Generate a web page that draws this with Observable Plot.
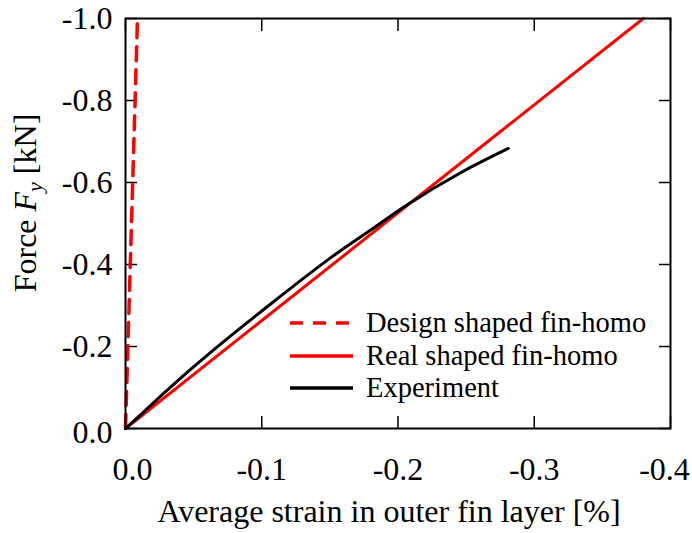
<!DOCTYPE html>
<html>
<head>
<meta charset="utf-8">
<script src="https://cdn.jsdelivr.net/npm/d3@7"></script>
<script src="https://cdn.jsdelivr.net/npm/@observablehq/plot@0.6"></script>
<style>
  html, body { margin: 0; padding: 0; background: #fff; }
  #wrap { position: relative; width: 692px; height: 533px; font-family: "Liberation Serif", serif; color: #000; }
  #chart svg, #chart svg text { font-family: "Liberation Serif", serif !important; font-variant: normal !important; }
  #ylabel { position: absolute; left: 27px; top: 203px; transform: translate(-50%, -50%) rotate(-90deg); white-space: nowrap; font-size: 32px; line-height: 1; }
  #legend { position: absolute; left: 290px; top: 307px; font-size: 28.5px; line-height: 32.5px; }
  #legend .row { display: flex; align-items: center; height: 32.5px; }
  #legend svg { margin-right: 13px; }
</style>
</head>
<body>
<div id="wrap">
  <div id="chart"></div>
  <div id="ylabel">Force <i>F</i><sub style="font-size:22px; vertical-align:-6px"><i>y</i></sub> [kN]</div>
  <div id="legend"></div>
</div>
<script>
// Data (strain in %, force in kN)
const designStrain = [0, -0.0088];
const designForce = [0, -1.0];
const realStrain = [0, -0.38];
const realForce = [0, -1.0];
const expStrain = [0, -0.01, -0.03, -0.064, -0.107, -0.15, -0.18, -0.206, -0.245, -0.281];
const expForce = [0, -0.03, -0.092, -0.19, -0.305, -0.415, -0.484, -0.544, -0.622, -0.683];
const xTicks = [0, -0.1, -0.2, -0.3, -0.4];
const yTicks = [0, -0.2, -0.4, -0.6, -0.8, -1.0];
const seriesNames = ["Design shaped fin-homo", "Real shaped fin-homo", "Experiment"];
const xLabel = "Average strain in outer fin layer [%]";

const toRows = (xs, ys) => xs.map((x, i) => ({x, y: ys[i]}));
const design = toRows(designStrain, designForce);
const real = toRows(realStrain, realForce);
const exp = toRows(expStrain, expForce);
const fmt = d => d.toFixed(1);

const xLab = {anchor: "bottom", tickFormat: fmt, tickSize: 0, tickPadding: 29, label: null, fontSize: 32};
const yLab = {anchor: "left", tickFormat: fmt, tickSize: 0, tickPadding: 13, label: null, fontSize: 32};
const tickOpts = {tickSize: -12, text: null, label: null, strokeWidth: 1.5};

const chart = Plot.plot({
  width: 692,
  height: 533,
  marginLeft: 125,
  marginRight: 22,
  marginTop: 18,
  marginBottom: 105,
  style: {fontFamily: "'Liberation Serif', serif", fontSize: "32px", background: "#fff", color: "#000", overflow: "visible"},
  x: {domain: [0, -0.4]},
  y: {domain: [0, -1.0]},
  marks: [
    // inward ticks on all four sides
    Plot.axisX({anchor: "bottom", ticks: xTicks, ...tickOpts}),
    Plot.axisX({anchor: "top", ticks: xTicks, ...tickOpts}),
    Plot.axisY({anchor: "left", ticks: yTicks, ...tickOpts}),
    Plot.axisY({anchor: "right", ticks: yTicks, ...tickOpts}),
    // tick labels
    Plot.axisX({...xLab, ticks: xTicks.slice(1, -1)}),
    Plot.axisX({...xLab, ticks: xTicks.slice(0, 1), dx: 7}),
    Plot.axisX({...xLab, ticks: xTicks.slice(-1), dx: -6}),
    Plot.axisY({...yLab, ticks: yTicks.slice(1)}),
    Plot.axisY({...yLab, ticks: yTicks.slice(0, 1), dy: 4}),
    // series
    Plot.line(design, {x: "x", y: "y", stroke: "#ff0000", strokeWidth: 3.5, strokeDasharray: "14,9"}),
    Plot.line(real, {x: "x", y: "y", stroke: "#ff0000", strokeWidth: 3}),
    Plot.line(exp, {x: "x", y: "y", stroke: "#000", strokeWidth: 3, curve: "natural"}),
    Plot.frame({stroke: "#000", strokeWidth: 2}),
    Plot.text([xLabel], {frameAnchor: "bottom", dx: -9, dy: 93, fill: "#000", fontSize: 32})
  ]
});
document.getElementById("chart").appendChild(chart);

// Legend
const styles = [
  {stroke: "#ff0000", dash: "13,10"},
  {stroke: "#ff0000", dash: null},
  {stroke: "#000", dash: null}
];
const legend = document.getElementById("legend");
seriesNames.forEach((name, i) => {
  const row = document.createElement("div");
  row.className = "row";
  const s = styles[i];
  row.innerHTML = `<svg width="63" height="10"><line x1="0" x2="63" y1="5" y2="5" stroke="${s.stroke}" stroke-width="3.5" ${s.dash ? `stroke-dasharray="${s.dash}"` : ""}/></svg><span>${name}</span>`;
  legend.appendChild(row);
});
</script>
</body>
</html>
